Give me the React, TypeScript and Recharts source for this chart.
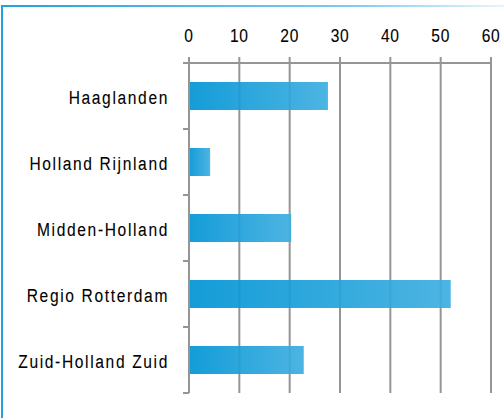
import { BarChart, Bar, XAxis, YAxis, CartesianGrid } from 'recharts'

// regio's en aantallen
const regions = ['Haaglanden', 'Holland Rijnland', 'Midden-Holland', 'Regio Rotterdam', 'Zuid-Holland Zuid']
const counts = [27.6, 4.2, 20.3, 52, 22.8]
const xTicks = [0, 10, 20, 30, 40, 50, 60]

const data = regions.map((name, i) => ({ name, value: counts[i] }))

// geen smalle font beschikbaar: Liberation Sans horizontaal samendrukken
const FONT = '"Liberation Sans", Arial, sans-serif'
const NARROW = 0.82
const GRAY = '#959595'
const Y_GAP = 20

const NarrowText = ({ x, y, dy, anchor, spacing, value }: any) => (
  <g transform={`translate(${x},${y}) scale(${NARROW},1)`}>
    <text
      x={0}
      y={0}
      dy={dy}
      textAnchor={anchor}
      fontFamily={FONT}
      fontSize={19}
      fill="#000"
      stroke="#000"
      strokeWidth={0.1}
      letterSpacing={spacing}
    >
      {value}
    </text>
  </g>
)

const XTick = (props: any) => (
  <NarrowText x={props.x} y={props.y} dy={0} anchor="middle" spacing={0.8} value={props.payload.value} />
)

// categorie-as: label in het midden, streepjes op de grenzen tussen de banden
const YTick = (props: any) => {
  const { x, y, payload, index, visibleTicksCount, height } = props
  const half = payload.offset || height / visibleTicksCount / 2
  const ax = x + Y_GAP
  const last = index === visibleTicksCount - 1
  return (
    <g>
      <line x1={ax - 6} x2={ax} y1={y - half} y2={y - half} stroke={GRAY} strokeWidth={2} />
      {last && <line x1={ax - 6} x2={ax} y1={y + half} y2={y + half} stroke={GRAY} strokeWidth={2} />}
      <NarrowText x={x} y={y} dy={7.5} anchor="end" spacing={2} value={payload.value} />
    </g>
  )
}

export default function App() {
  return (
    <div style={{ position: 'absolute', left: 0, top: 0, width: 504, height: 418, background: '#fff' }}>
      <div style={{ position: 'absolute', left: 1, top: 5, width: 503, height: 2, background: 'linear-gradient(to right, #1fa2df, #7fcbee 70%, #e6f5fc)' }} />
      <div style={{ position: 'absolute', left: 1, top: 5, width: 2, height: 413, background: '#1fa2df' }} />
      <div style={{ position: 'absolute', left: 0, top: 0 }}>
        <BarChart
          width={504}
          height={418}
          data={data}
          layout="vertical"
          margin={{ top: 0, right: 13, left: 0, bottom: 25 }}
        >
          <defs>
            <linearGradient id="barFill" x1="0" y1="0" x2="1" y2="0">
              <stop offset="0%" stopColor="#0094d4" />
              <stop offset="100%" stopColor="#3eaee0" />
            </linearGradient>
          </defs>
          <CartesianGrid horizontal={false} vertical stroke={GRAY} strokeWidth={2} />
          <XAxis
            type="number"
            orientation="top"
            domain={[0, 60]}
            ticks={xTicks}
            height={63}
            tickSize={6}
            tickMargin={15}
            axisLine={{ stroke: GRAY, strokeWidth: 2 }}
            tickLine={{ stroke: GRAY, strokeWidth: 2 }}
            tick={<XTick />}
          />
          <YAxis
            type="category"
            dataKey="name"
            width={189}
            axisLine={{ stroke: GRAY, strokeWidth: 2 }}
            tickLine={false}
            tickSize={0}
            tickMargin={Y_GAP}
            tick={<YTick />}
          />
          <Bar dataKey="value" fill="url(#barFill)" fillOpacity={0.92} barSize={28} isAnimationActive={false} />
        </BarChart>
      </div>
    </div>
  )
}
